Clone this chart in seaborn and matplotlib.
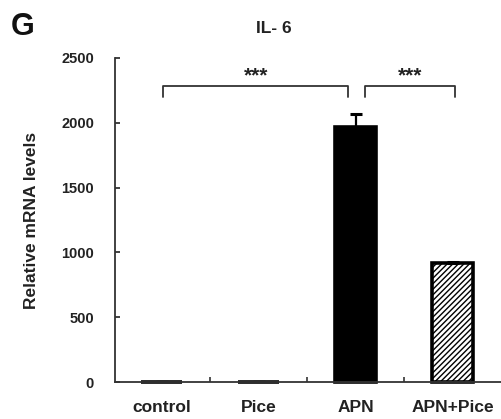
import matplotlib
matplotlib.use("Agg")
import matplotlib.pyplot as plt
import seaborn as sns
import pandas as pd
from matplotlib.ticker import FixedLocator

categories = ["control", "Pice", "APN", "APN+Pice"]
values = [3, 3, 1970, 915]
errors = [0, 0, 100, 12]
y_ticks = [0, 500, 1000, 1500, 2000, 2500]

sns.set_theme(style="ticks")
plt.rcParams['font.family'] = ['Liberation Sans', 'DejaVu Sans']
plt.rcParams['hatch.linewidth'] = 1.0

df = pd.DataFrame({"group": categories, "value": values})

fig = plt.figure(figsize=(5.02, 4.19), dpi=100)
ax = fig.add_axes([0.229, 0.0883, 0.775, 0.7733])

sns.barplot(data=df, x="group", y="value", order=categories,
            palette=["black", "black", "black", "white"], hue="group",
            legend=False, edgecolor="black", linewidth=2.6, width=0.43,
            errorbar=None, ax=ax)
ax.patches[3].set_hatch("//////")
for p in ax.patches:
    p.set_clip_on(False)

ax.errorbar(range(len(categories)), values, yerr=[[0]*4, errors], fmt="none",
            ecolor="black", elinewidth=1.6, capsize=4, capthick=2.2)

ax.set_xlim(-0.48, 3.53)
ax.set_ylim(0, 2500)
ax.set_yticks(y_ticks)
ax.set_yticklabels([str(t) for t in y_ticks], fontsize=10.5, fontweight="bold")
ax.set_xticks(range(len(categories)))
ax.set_xticklabels(categories, fontsize=12.5, fontweight="bold")
ax.xaxis.set_minor_locator(FixedLocator([0.5, 1.5, 2.5]))
ax.tick_params(axis="x", which="major", length=0, pad=13, colors="#222222")
ax.tick_params(axis="x", which="minor", direction="in", length=3.5, width=1.2,
               bottom=True, color="#333333")
ax.tick_params(axis="y", which="major", direction="in", length=3.5, width=1.3,
               left=True, pad=15, color="#333333", labelcolor="#222222")

for s in ["top", "right"]:
    ax.spines[s].set_visible(False)
for s in ["left", "bottom"]:
    ax.spines[s].set_color("#333333")
    ax.spines[s].set_linewidth(1.3)

ax.set_xlabel("")
ax.set_ylabel("Relative mRNA levels", fontsize=12.5, fontweight="bold", labelpad=16,
              color="#222222")

def bracket(x1, x2, y_top, y_bot, text):
    ax.plot([x1, x1, x2, x2], [y_bot, y_top, y_top, y_bot], color="#333333", lw=1.3,
            clip_on=False)
    ax.text((x1 + x2) / 2, y_top + 5, text, ha="center", va="bottom",
            fontsize=15, fontweight="bold", color="#222222")

bracket(0.02, 1.92, 2285, 2200, "***")
bracket(2.1, 3.02, 2285, 2200, "***")

fig.text(0.545, 0.931, "IL- 6", ha="center", va="center", fontsize=12.5,
         fontweight="bold", color="#222222")
fig.text(0.045, 0.935, "G", ha="center", va="center", fontsize=22, fontweight="bold",
         color="#111111")

fig.savefig("out.png", dpi=100)
